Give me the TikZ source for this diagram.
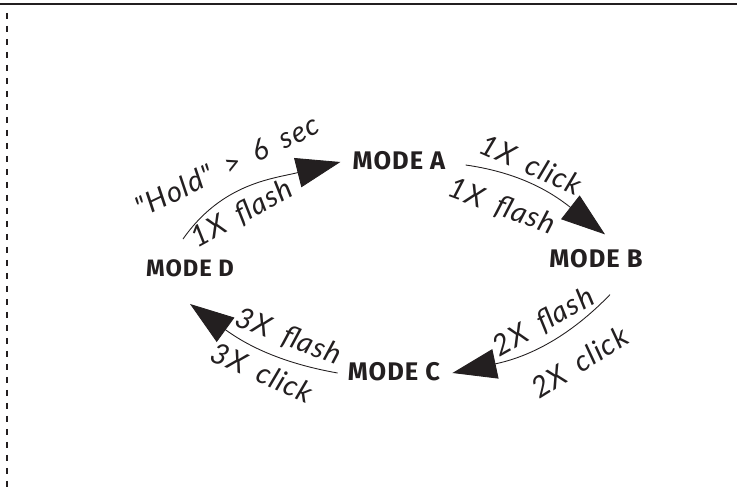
\documentclass[tikz,border=0pt]{standalone}
\usepackage{fontspec}
\setmainfont{Fira Sans}
\newfontfamily\modefont[LetterSpace=4]{Fira Sans}
\newfontfamily\flowfont[LetterSpace=4, WordSpace=1.8]{Lato}
\usetikzlibrary{positioning, arrows.meta}
\definecolor{ink}{HTML}{231F20}

\begin{document}
\begin{tikzpicture}[node distance=2cm, on grid,
	mode/.style={font=\modefont\bfseries\fontsize{14.5}{16}\selectfont, text=ink, inner sep=0pt},
	flow/.style={draw=ink, line width=0.5pt, -{Triangle[length=8.8mm, width=6mm]}},
	tag/.style={font=\flowfont\itshape\fontsize{16.5}{18}\selectfont, text=ink, sloped, inner sep=1pt}]
	\useasboundingbox (0,0) rectangle (14.74,9.90);
	% frame
	\draw[ink, line width=0.8pt] (0,9.82) -- (14.74,9.82);
	\draw[ink, line width=0.8pt, dash pattern=on 1.2mm off 1.4mm] (0.14,9.64) -- (0.14,0.14);
	% modes
	\node[mode] (modeA) at (7.98,6.68) {MODE A};
	\node[mode, below right=1.96cm and 3.94cm of modeA] (modeB) {MODE B};
	\node[mode, below left=4.22cm and 0.10cm of modeA] (modeC) {MODE C};
	\node[mode, below left=2.14cm and 4.18cm of modeA, font=\modefont\bfseries\fontsize{13.5}{15}\selectfont] (modeD) {MODE D};
	% transitions
	\draw[flow] ([shift={(-0.14,0.40)}]modeD.north) to[out=55, in=194]
		node[tag, above=3mm, pos=.42] {"Hold" > 6 sec}
		node[tag, below=1.5mm, pos=.37] {1X flash} ([shift={(-0.24,-0.02)}]modeA.west);
	\draw[flow] ([shift={(0.40,-0.08)}]modeA.east) to[out=-8, in=142]
		node[tag, above=1mm, pos=.38] {1X click}
		node[tag, below=3.5mm, pos=.3] {1X flash} ([shift={(0.18,0.30)}]modeB.north);
	\draw[flow] ([shift={(0.28,-0.52)}]modeB.south) to[out=226, in=12]
		node[tag, above=1mm, pos=.4] {2X flash}
		node[tag, below=4mm, pos=.34] {2X click} ([shift={(0.24,-0.02)}]modeC.east);
	\draw[flow] ([shift={(-0.20,-0.02)}]modeC.west) to[out=170, in=-36]
		node[tag, above=1.5mm, pos=.35] {3X flash}
		node[tag, below=1.5mm, pos=.42] {3X click} ([shift={(0,-0.54)}]modeD.south);
\end{tikzpicture}
\end{document}
